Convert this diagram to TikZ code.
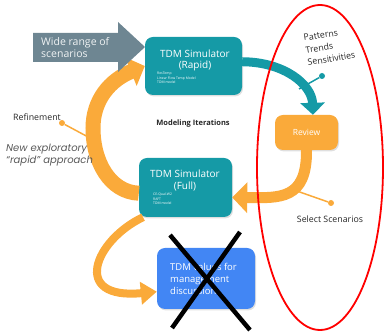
\documentclass[tikz,border=0pt]{standalone}
\usepackage{fontspec}
\setmainfont{Open Sans}
\newfontfamily\exploreFont{Poppins}
\usepackage{tikz}
\usetikzlibrary{arrows.meta,shadows}

\definecolor{simteal}{RGB}{21,154,166}
\definecolor{looporange}{RGB}{250,170,58}
\definecolor{arrowgray}{RGB}{110,134,146}
\definecolor{valueblue}{RGB}{66,134,244}

\begin{document}
\begin{tikzpicture}[x=1pt,y=-1pt,
  box/.style={rounded corners=8pt,drop shadow={opacity=0.25,shadow xshift=1pt,shadow yshift=-1.5pt}},
  sim node/.style={box,fill=simteal,minimum width=97pt,minimum height=58pt},
  box title/.style={text=white,align=center,font=\fontsize{10}{11}\selectfont},
  tiny text/.style={text=white,align=left,inner sep=0pt,font=\fontsize{3.4}{4.6}\selectfont},
  side text/.style={text=black!85,align=left,inner sep=0pt,font=\fontsize{8.8}{12.5}\selectfont},
  pin dot/.style={circle,inner sep=0pt,minimum size=6pt},
  loop/.style={looporange,-{Triangle[width=30pt,length=15pt]}}]

\useasboundingbox (0,0) rectangle (386,336);

% Kästen: Simulatoren, Review und Ergebnis
  \node[sim node] (rapid) at (193.5,66) {}; % schneller Simulator oben
  \node[box title] (rapid title) at (195,60) {TDM Simulator\\(Rapid)};
  \node[tiny text,anchor=north west] (rapid models) at (157,72) {ResTemp\\Linear Flow Temp Model\\TDM model};
  \node[sim node,minimum width=93pt,minimum height=59pt] (full) at (185.5,187.5) {}; % voller Simulator
  \node[box title,font=\fontsize{10}{12}\selectfont] (full title) at (185,180) {TDM Simulator\\(Full)};
  \node[tiny text,anchor=north west] (full models) at (153,193) {CE-Qual-W2\\RAFT\\TDM model};
  \node[box,fill=looporange,minimum width=63pt,minimum height=35pt,text=white,font=\fontsize{8.5}{10}\selectfont] (review) at (306.5,132.5) {Review};
  \node[box,fill=valueblue,minimum width=98pt,minimum height=61pt] (values) at (206,278.5) {};
  \node[anchor=west,text=white,align=left,inner sep=0pt,font=\fontsize{9.5}{12.2}\selectfont] (values text) at (170,279) {TDM values for\\management\\discussion};

% Schleife der Iterationen
  \draw[loop,line width=11pt] (review.south) .. controls (307,200) and (280,198) .. (full.-12);
  \draw[loop,line width=15pt] (full.187) .. controls (110,192) and (93,162) .. (93,128) .. controls (93,100) and (110,80) .. (rapid.west);
  \draw[simteal,line width=9pt,-{Triangle[width=24pt,length=12pt]}] (rapid.5) .. controls (285,62) and (312,85) .. (review.70);
  \draw[loop,line width=8pt,-{Triangle[width=22pt,length=16pt]}] (full.-145) .. controls (95,240) and (70,300) .. (values.195);

% grauer Pfeil mit Text
  \fill[arrowgray] (33,33) -- (118,33) -- (118,22) -- (145,47) -- (118,72) -- (118,62) -- (33,62) -- cycle;
  \node[anchor=west,text=white!90!arrowgray,align=left,inner sep=0pt,font=\fontsize{10.5}{12}\selectfont] (wide) at (41,47.5) {Wide range of\\scenarios};

% Beschriftungen mit Stecknadeln
  \node[pin dot,fill=simteal] (patterns dot) at (322,76) {};
  \coordinate (patterns hit) at (299,89);
  \draw[simteal,line width=1.5pt] (patterns dot) -- (patterns hit);
  \node[side text,rotate=9,anchor=south west] (patterns) at (308,66) {Patterns\\Trends\\Sensitivities};
  \node[pin dot,fill=looporange] (select dot) at (331,203) {};
  \coordinate (select hit) at (294,190);
  \draw[looporange,line width=1.5pt] (select dot) -- (select hit);
  \node[side text] (select) at (330,219) {Select Scenarios};
  \node[pin dot,fill=looporange] (refine dot) at (62,123) {};
  \coordinate (refine hit) at (90,138);
  \draw[looporange,line width=1.5pt] (refine dot) -- (refine hit);
  \node[side text] (refine) at (37,117) {Refinement};
  \node[anchor=west,align=left,inner sep=0pt,text=black!65,font=\exploreFont\itshape\fontsize{10}{12}\selectfont] (explore) at (6,155) {New exploratory\\“rapid” approach};
  \node[font=\bfseries\fontsize{7.5}{9}\selectfont,text=black!85] (iterations) at (193,124) {Modeling Iterations};

% rote Ellipse und Kreuz
  \draw[red,line width=1.8pt] (320,167.5) ellipse [x radius=63,y radius=162.5];
  \coordinate (cross a) at (170,235);
  \coordinate (cross b) at (250,330);
  \coordinate (cross c) at (240,232);
  \coordinate (cross d) at (172,328);
  \draw[line width=4.5pt] (cross a) -- (cross b) (cross c) -- (cross d);
\end{tikzpicture}
\end{document}
